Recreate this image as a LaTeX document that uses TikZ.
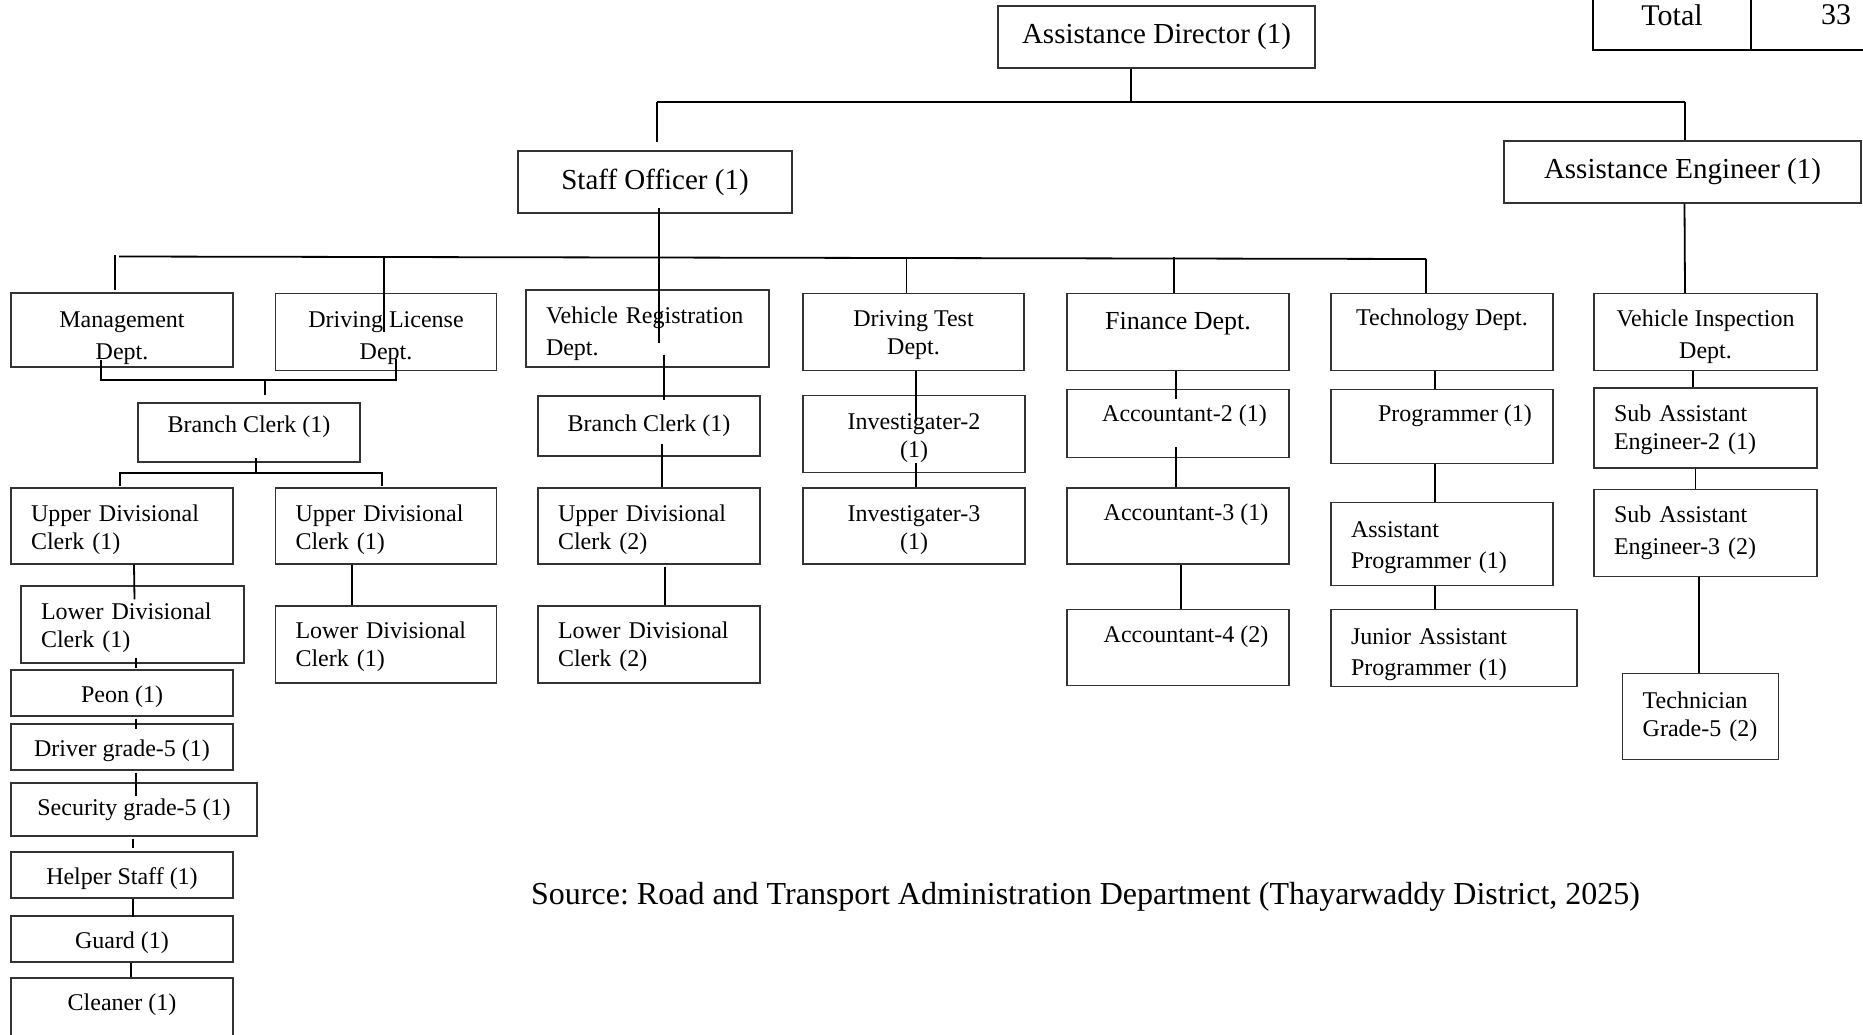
\documentclass[tikz,border=0pt]{standalone}
\usepackage{fontspec}
\setmainfont{Liberation Serif}
\newcommand\lowr[1]{\rule{0pt}{#1pt}}

\begin{document}
\frenchspacing
\begin{tikzpicture}[
  x=1pt, y=-1pt,
  box/.style={draw=black!80, line width=1.1pt, inner sep=0pt, align=center, font=\fontsize{24}{28}\selectfont},
  head/.style={box, font=\fontsize{29}{34}\selectfont},
  lbox/.style={box, align=left, inner xsep=20pt},
  wide/.style={font=\fontsize{24}{32}\selectfont},
  cell/.style={draw, line width=1.6pt, inner sep=0pt, font=\fontsize{30}{36}\selectfont},
  sz/.style 2 args={minimum width=#1pt, minimum height=#2pt},
  lsz/.style 2 args={text width=#1pt, minimum height=#2pt},
  lift/.style={text depth=#1pt},
  sink/.style={text height=#1pt},
  link/.style={line width=1.8pt}
]
\useasboundingbox (0,0) rectangle (1863,1035);
\clip (0,0) rectangle (1863,1035);

% top level
\node[head, sz={317}{62}] (ad) at (1156.5,37) {Assistance Director (1)};
\node[head, sz={274}{62}] (so) at (655,182) {Staff Officer (1)};
\node[head, sz={357}{62}] (ae) at (1682.5,172) {Assistance Engineer (1)};

% total
\node[cell, sz={158}{70}] (tot) at (1672,15) {Total};
\node[cell, sz={170}{70}] (num) at (1836,15) {33};

% departments
\node[box, wide, sz={222}{74}] (mgmt) at (122,330) {\lowr{32}Management\\Dept.};
\node[box, wide, sz={221}{77}] (dl) at (386,332) {\lowr{28.6}Driving License\\Dept.};
\node[lbox, wide, lsz={203}{77}] (vr) at (647.5,328.5) {\lowr{27.4}Vehicle Registration\\Dept.};
\node[box, sz={221}{77}] (dt) at (913.5,332) {\lowr{22.6}Driving Test\\Dept.};
\node[box, sz={222}{77}, lift=23, font=\fontsize{26}{31}\selectfont] (fin) at (1178,332) {Finance Dept.};
\node[box, sz={222}{77}, lift=29] (tech) at (1442,332) {Technology Dept.};
\node[box, wide, sz={223}{77}] (vi) at (1705.5,332) {\lowr{26.2}Vehicle Inspection\\Dept.};

% management and driving license
\node[box, sz={222}{59}, lift=16] (bc1) at (249,432.5) {Branch Clerk (1)};
\node[lbox, lsz={182}{76}] (udc1) at (122,526) {\lowr{25}Upper Divisional\\Clerk (1)};
\node[lbox, lsz={181}{76}] (udc2) at (386,526) {\lowr{25}Upper Divisional\\Clerk (1)};
\node[lbox, lsz={183}{77}] (ldc1) at (132.5,624.5) {\lowr{22.6}Lower Divisional\\Clerk (1)};
\node[lbox, lsz={181}{77}] (ldc2) at (386,644.5) {\lowr{21.4}Lower Divisional\\Clerk (1)};
\node[box, sz={222}{46}, sink=25] (peon) at (122,693) {Peon (1)};
\node[box, sz={222}{46}, sink=25] (driver) at (122,747) {Driver grade-5 (1)};
\node[box, sz={246}{53}] (security) at (134,809.5) {Security grade-5 (1)};
\node[box, sz={222}{46}, sink=25] (helper) at (122,875) {Helper Staff (1)};
\node[box, sz={222}{46}, sink=25] (guard) at (122,939) {Guard (1)};
\node[box, sz={222}{92}, lift=43] (cleaner) at (122,1024) {Cleaner (1)};

% vehicle registration
\node[box, sz={222}{60}] (bc2) at (649,426) {Branch Clerk (1)};
\node[lbox, lsz={182}{76}] (udc3) at (649,526) {\lowr{25}Upper Divisional\\Clerk (2)};
\node[lbox, lsz={182}{77}] (ldc3) at (649,644.5) {\lowr{21.4}Lower Divisional\\Clerk (2)};

% driving test
\node[box, sz={222}{77}] (inv2) at (914,434) {\lowr{25}Investigater-2\\(1)};
\node[box, sz={222}{76}] (inv3) at (914,526) {\lowr{25}Investigater-3\\(1)};

% finance
\node[box, sz={222}{68}, lift=21] (acc2) at (1178,423.5) {\hspace*{13pt}Accountant-2 (1)};
\node[box, sz={222}{76}, lift=27] (acc3) at (1178,526) {\hspace*{16pt}Accountant-3 (1)};
\node[box, sz={222}{76}, lift=27] (acc4) at (1178,647.5) {\hspace*{16pt}Accountant-4 (2)};

% technology
\node[box, sz={222}{74}, lift=27] (prog) at (1442,426.5) {\hspace*{26pt}Programmer (1)};
\node[lbox, lsz={182}{83}, font=\fontsize{24}{31}\selectfont] (aprog) at (1442,544) {\lowr{23.8}Assistant\\Programmer (1)};
\node[lbox, lsz={206}{77}, font=\fontsize{24}{31}\selectfont] (japrog) at (1454,648) {\lowr{29.6}Junior Assistant\\Programmer (1)};

% vehicle inspection
\node[lbox, lsz={183}{80}] (sae2) at (1705.5,428) {\lowr{20}Sub Assistant\\Engineer-2 (1)};
\node[lbox, wide, lsz={183}{87}] (sae3) at (1705.5,533) {Sub Assistant\\Engineer-3 (2)};
\node[lbox, lsz={116}{86}] (techn) at (1700.7,716.4) {Technician\\Grade-5 (2)};

\node[anchor=base west, inner sep=0pt, font=\fontsize{32}{38}\selectfont] (src) at (531,904)
  {Source: Road and Transport Administration Department (Thayarwaddy District, 2025)};

% buses
\coordinate (b1w) at (657,102);
\coordinate (b1e) at (1685,102);
\coordinate (b2w) at (119,256.5);
\coordinate (b2e) at (1426,259);
\coordinate (jl) at (101,380);
\coordinate (jr) at (396,380);
\coordinate (kl) at (120,473);
\coordinate (kr) at (382,473);

% director level
\draw[link] (b1w) -- (b1e);
\draw[link] ([xshift=-25.5pt]ad.south) -- ++(0,34);
\draw[link] (b1w) -- ([shift={(2,-8)}]so.north);
\draw[link] (b1e) -- (b1e |- ae.north);

% staff officer level
\draw[link] (b2w) -- (b2e);
\draw[link] ([shift={(4,-6)}]so.south) -- ([shift={(11.5,54)}]vr.north);
\draw[link] ([shift={(-7,-2)}]mgmt.north) -- ++(0,-35);
\draw[link] ([shift={(-2,39)}]dl.north) -- ++(0,-76);
\draw[link] ([xshift=-7pt]dt.north) -- ++(0,-36);
\draw[link] ([xshift=-4pt]fin.north) -- ++(0,-36);
\draw[link] ([xshift=-16pt]tech.north) -- (b2e);
\draw[link] ([xshift=2pt]ae.south) -- ([xshift=-20.5pt]vi.north);

% management and driving license
\draw[link] ([shift={(-21,-8)}]mgmt.south) -- (jl) -- (jr) -- ([shift={(10,-12)}]dl.south);
\draw[link] ([shift={(16,-7)}]bc1.north) -- ++(0,-16);
\draw[link] ([shift={(7,-5)}]bc1.south) -- ++(0,16);
\draw[link] ([shift={(-2,-1)}]udc1.north) -- (kl) -- (kr) -- ([shift={(-4,-1)}]udc2.north);
\draw[link] ([xshift=12pt]udc1.south) -- ([shift={(2,14)}]ldc1.north);
\draw[link] ([xshift=-34pt]udc2.south) -- ([xshift=-34pt]ldc2.north);
\draw[link] ([shift={(3.5,-6)}]ldc1.south) -- ++(0,10);
\draw[link] ([shift={(14,2)}]peon.south) -- ([shift={(14,6)}]driver.north);
\draw[link] ([shift={(14,2)}]driver.south) -- ([shift={(2,14)}]security.north);
\draw[link] ([shift={(-1,2)}]security.south) -- ([shift={(11,-3)}]helper.north);
\draw[link] ([xshift=11pt]helper.south) -- ([shift={(11,2)}]guard.north);
\draw[link] ([xshift=9pt]guard.south) -- ([xshift=9pt]cleaner.north);

% vehicle registration
\draw[link] ([shift={(16.5,-13)}]vr.south) -- ([shift={(15,4.5)}]bc2.north);
\draw[link] ([shift={(13,-13)}]bc2.south) -- ([xshift=13pt]udc3.north);
\draw[link] ([shift={(16,2)}]udc3.south) -- ([xshift=16pt]ldc3.north);

% driving test
\draw[link] ([xshift=2.5pt]dt.south) -- ([shift={(2,26)}]inv2.north);
\draw[link] ([shift={(2,-10)}]inv2.south) -- ([xshift=2pt]inv3.north);

% finance
\draw[link] ([xshift=-2pt]fin.south) -- ([shift={(-2,10)}]acc2.north);
\draw[link] ([shift={(-2,-11)}]acc2.south) -- ([xshift=-2pt]acc3.north);
\draw[link] ([xshift=3pt]acc3.south) -- ([xshift=3pt]acc4.north);

% technology
\draw[link] ([xshift=-7pt]tech.south) -- ([xshift=-7pt]prog.north);
\draw[link] ([xshift=-7pt]prog.south) -- ([xshift=-7pt]aprog.north);
\draw[link] ([xshift=-7pt]aprog.south) -- ([xshift=-19pt]japrog.north);

% vehicle inspection
\draw[link] ([xshift=-12.5pt]vi.south) -- ([xshift=-12.5pt]sae2.north);
\draw[link] ([xshift=-10pt]sae2.south) -- ([xshift=-10pt]sae3.north);
\draw[link] ([xshift=-6.5pt]sae3.south) -- ([xshift=-1.7pt]techn.north);
\end{tikzpicture}
\end{document}
